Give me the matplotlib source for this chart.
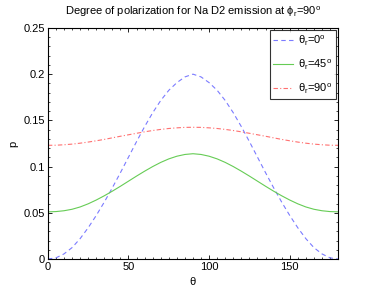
import matplotlib
matplotlib.use('Agg')
import matplotlib.pyplot as plt
from matplotlib.ticker import MultipleLocator

plt.rcParams['font.family'] = ['Liberation Sans', 'DejaVu Sans']
plt.rcParams['mathtext.fontset'] = 'custom'
plt.rcParams['mathtext.rm'] = 'Liberation Sans'
plt.rcParams['mathtext.it'] = 'Liberation Sans'
plt.rcParams['mathtext.bf'] = 'Liberation Sans:bold'

# theta in degrees, 0..180 step 5
theta = [0, 5, 10, 15, 20, 25, 30, 35, 40, 45, 50, 55, 60, 65, 70, 75, 80, 85, 90,
         95, 100, 105, 110, 115, 120, 125, 130, 135, 140, 145, 150, 155, 160, 165, 170, 175, 180]

# theta_r = 0
p_0 = [0.0, 0.0012, 0.0055, 0.0123, 0.022, 0.0338, 0.0471, 0.0616, 0.0771, 0.0934, 0.1102,
       0.127, 0.1432, 0.1582, 0.1715, 0.1825, 0.1908, 0.197, 0.200,
       0.197, 0.1908, 0.1825, 0.1715, 0.1582, 0.1432, 0.127, 0.1102, 0.0934, 0.0771,
       0.0616, 0.0471, 0.0338, 0.022, 0.0123, 0.0055, 0.0012, 0.0]

# theta_r = 45
p_45 = [0.051, 0.0513, 0.0522, 0.0538, 0.0563, 0.0597, 0.0638, 0.0684, 0.0734, 0.0787, 0.0842,
        0.0897, 0.095, 0.100, 0.1045, 0.1083, 0.1112, 0.1131, 0.1139,
        0.1131, 0.1112, 0.1083, 0.1045, 0.100, 0.095, 0.0897, 0.0842, 0.0787, 0.0734,
        0.0684, 0.0638, 0.0597, 0.0563, 0.0538, 0.0522, 0.0513, 0.051]

# theta_r = 90
p_90 = [0.123, 0.1231, 0.1236, 0.1243, 0.1253, 0.1265, 0.1279, 0.1294, 0.1311, 0.1328, 0.1344,
        0.136, 0.1376, 0.139, 0.1402, 0.1412, 0.1419, 0.1424, 0.1425,
        0.1424, 0.1419, 0.1412, 0.1402, 0.139, 0.1376, 0.136, 0.1344, 0.1328, 0.1311,
        0.1294, 0.1279, 0.1265, 0.1253, 0.1243, 0.1236, 0.1231, 0.123]

fig = plt.figure(figsize=(3.74, 2.91), dpi=100)
ax = fig.add_axes([0.128, 0.110, 0.776, 0.794])

ax.plot(theta, p_0, color='#7b7bff', linestyle=(0, (4, 3)), linewidth=0.8, label=r'$\theta_r$=0$^o$')
ax.plot(theta, p_45, color='#66cc55', linestyle='-', linewidth=0.8, label=r'$\theta_r$=45$^o$')
ax.plot(theta, p_90, color='#ff7070', linestyle=(0, (4, 2, 1, 2)), linewidth=0.8, label=r'$\theta_r$=90$^o$')

ax.set_xlim(0, 180)
ax.set_ylim(0, 0.25)
ax.set_xticks([0, 50, 100, 150])
ax.set_yticks([0, 0.05, 0.1, 0.15, 0.2, 0.25])
ax.set_yticklabels(['0', '0.05', '0.1', '0.15', '0.2', '0.25'])
ax.xaxis.set_minor_locator(MultipleLocator(5))
ax.yaxis.set_minor_locator(MultipleLocator(0.01))
ax.tick_params(which='both', direction='in', top=True, right=True, labelsize=8, pad=2)
ax.tick_params(which='major', length=3, width=0.6)
ax.tick_params(which='minor', length=1.5, width=0.5)
for s in ax.spines.values():
    s.set_linewidth(0.8)

ax.set_xlabel(r'$\theta$', fontsize=8, labelpad=2)
ax.set_ylabel('p', fontsize=8, labelpad=4)
ax.set_title(r'Degree of polarization for Na D2 emission at $\phi_r$=90$^o$', fontsize=8, pad=9)

leg = ax.legend(loc='upper right', fontsize=8, frameon=True, fancybox=False,
                edgecolor='black', handlelength=1.8, borderaxespad=0.2,
                labelspacing=0.9, handletextpad=0.5, borderpad=0.3)
leg.get_frame().set_linewidth(0.8)

fig.savefig('out.png', dpi=100)
